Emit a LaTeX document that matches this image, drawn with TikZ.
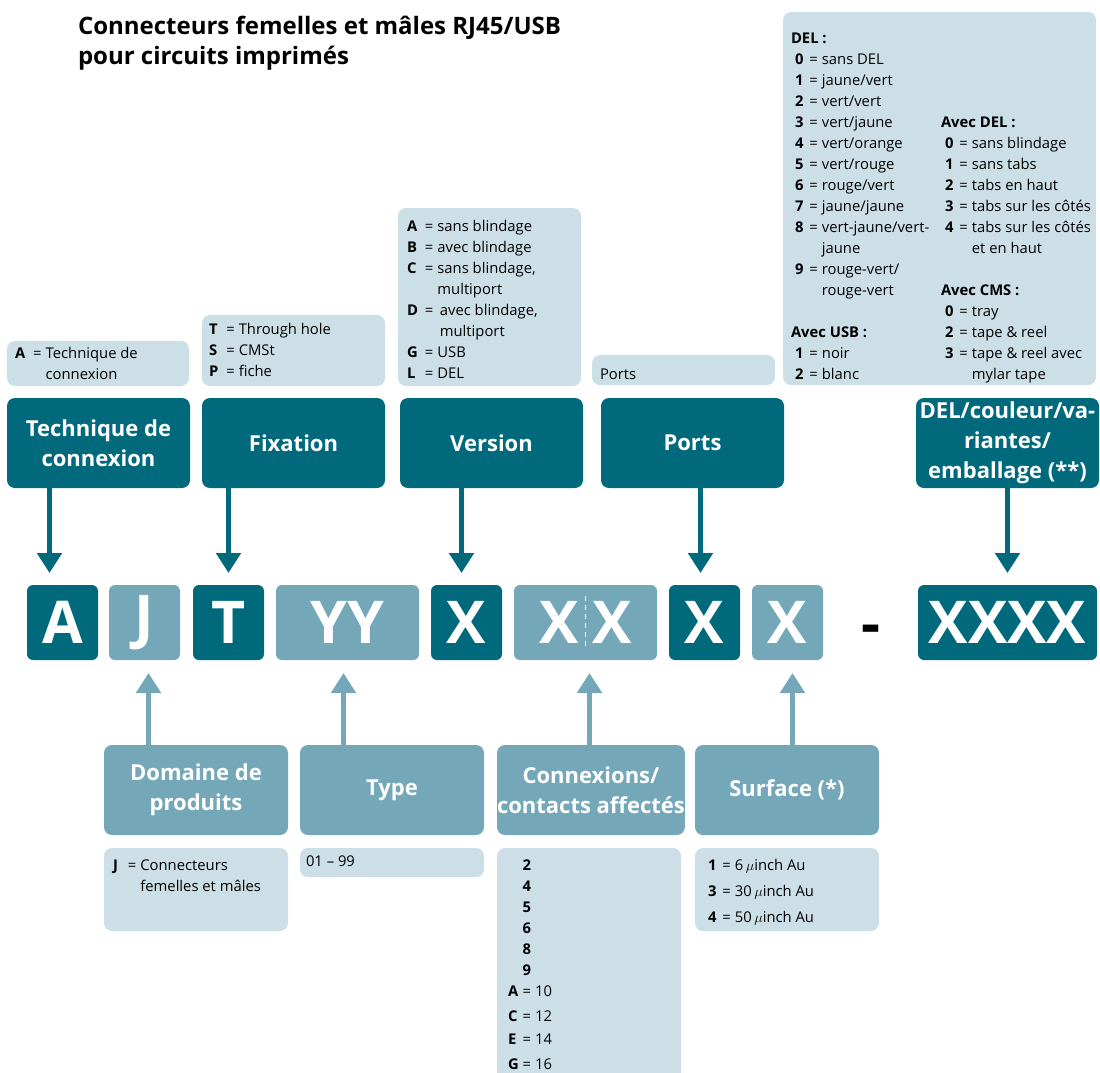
\documentclass[tikz,border=0pt]{standalone}
\usepackage{fontspec}
\setmainfont{Open Sans}
\usetikzlibrary{positioning,arrows.meta}
\definecolor{tealdark}{HTML}{006A7C}
\definecolor{tealmid}{HTML}{74A8B8}
\definecolor{teallight}{HTML}{CCDFE6}
\begin{document}
\begin{tikzpicture}
  [x=1pt, y=-1pt,
   every node/.style={inner sep=0pt, outer sep=0pt},
   hdr/.style={fill=tealdark, text=white, rounded corners=8pt, align=center, anchor=north west, minimum width=183pt, minimum height=90pt, font=\fontsize{22}{30}\selectfont\bfseries},
   subhdr/.style={hdr, fill=tealmid, minimum width=184pt},
   info/.style={fill=teallight, rounded corners=8pt, anchor=north west, inner xsep=8pt, font=\fontsize{14.8}{21}\selectfont},
   code/.style={fill=tealdark, text=white, rounded corners=6pt, anchor=north west, minimum width=71pt, minimum height=75pt, font=\fontsize{59}{59}\selectfont\bfseries},
   codemid/.style={code, fill=tealmid},
   dnarrow/.style={tealdark, line width=5pt, -{Triangle[width=24pt,length=20pt]}, shorten >=12pt},
   uparrow/.style={tealmid, line width=5pt, -{Triangle[width=24pt,length=20pt]}, shorten >=13pt}]
  \useasboundingbox (0,0) rectangle (1100,1072);

  \node[anchor=north west, align=left, font=\fontsize{24}{30}\selectfont\bfseries] (title) at (78,16) {Connecteurs femelles et mâles RJ45/USB\\pour circuits imprimés};

  \node[info, inner ysep=3pt] (techinfo) at (7,341) {\begin{minipage}[c][39pt][t]{166pt}\begin{tabular}{@{}l@{\hspace{8pt}}l@{\hspace{4pt}}l@{}}
    \textbf{A} & = & Technique de\\ & & connexion\end{tabular}\end{minipage}};
  \node[info, inner ysep=5pt, inner xsep=7pt] (fixinfo) at (202,315) {\begin{minipage}[c][61pt][t]{169pt}\begin{tabular}{@{}l@{\hspace{8pt}}l@{\hspace{4pt}}l@{}}
    \textbf{T} & = & Through hole\\ \textbf{S} & = & CMSt\\ \textbf{P} & = & fiche\end{tabular}\end{minipage}};
  \node[info, inner ysep=9pt, inner xsep=9pt] (verinfo) at (398,208) {\begin{minipage}[c][160pt][t]{165pt}\begin{tabular}{@{}l@{\hspace{7pt}}l@{\hspace{4pt}}l@{}}
    \textbf{A} & = & sans blindage\\ \textbf{B} & = & avec blindage\\ \textbf{C} & = & sans blindage,\\ & & multiport\\
    \textbf{D} & = & \,avec blindage,\\ & & \,multiport\\ \textbf{G} & = & USB\\ \textbf{L} & = & DEL\end{tabular}\end{minipage}};
  \node[info, inner ysep=0pt] (portinfo) at (592,355) {\begin{minipage}[c][30pt][t]{167pt}\rule{0pt}{24pt}Ports\end{minipage}};
  \node[info, inner ysep=0pt] (delinfo) at (783,12) {\begin{minipage}[c][373pt][t]{297pt}\vspace*{17pt}%
    \makebox[150pt][l]{\begin{tabular}[b]{@{\hspace{4pt}}l@{\hspace{6pt}}l@{\hspace{4pt}}l@{}}
    \multicolumn{3}{@{}l@{}}{\textbf{DEL :}}\\
    \textbf{0} & = & sans DEL\\ \textbf{1} & = & jaune/vert\\ \textbf{2} & = & vert/vert\\ \textbf{3} & = & vert/jaune\\
    \textbf{4} & = & vert/orange\\ \textbf{5} & = & vert/rouge\\ \textbf{6} & = & rouge/vert\\ \textbf{7} & = & jaune/jaune\\
    \textbf{8} & = & vert-jaune/vert-\\ & & jaune\\ \textbf{9} & = & rouge-vert/\\ & & rouge-vert\\ & & \\
    \multicolumn{3}{@{}l@{}}{\textbf{Avec USB :}}\\
    \textbf{1} & = & noir\\ \textbf{2} & = & blanc\end{tabular}}%
    \begin{tabular}[b]{@{\hspace{4pt}}l@{\hspace{6pt}}l@{\hspace{4pt}}l@{}}
    \multicolumn{3}{@{}l@{}}{\textbf{Avec DEL :}}\\
    \textbf{0} & = & sans blindage\\ \textbf{1} & = & sans tabs\\ \textbf{2} & = & tabs en haut\\ \textbf{3} & = & tabs sur les côtés\\
    \textbf{4} & = & tabs sur les côtés\\ & & et en haut\\ & & \\
    \multicolumn{3}{@{}l@{}}{\textbf{Avec CMS :}}\\
    \textbf{0} & = & tray\\ \textbf{2} & = & tape \& reel\\ \textbf{3} & = & tape \& reel avec\\ & & mylar tape\end{tabular}\end{minipage}};

  \node[hdr] (techhdr) at (7,398) {Technique de\\connexion};
  \node[hdr] (fixhdr) at (202,398) {Fixation};
  \node[hdr] (verhdr) at (400,398) {Version};
  \node[hdr] (porthdr) at (601,398) {Ports};
  \node[hdr] (delhdr) at (916,398) {DEL/couleur/va-\\riantes/\\emballage (**)};

  \node[code] (cA) at (27,585) {A};
  \node[codemid] (cJ) at (109,585) {J};
  \node[code] (cT) at (193,585) {T};
  \node[codemid, minimum width=143pt] (cYY) at (276,585) {YY};
  \node[code] (cV) at (431,585) {X};
  \node[codemid, minimum width=143pt] (cXX) at (514,585) {X\hspace{14pt}X};
  \node[code] (cP) at (669,585) {X};
  \node[codemid] (cS) at (752,585) {X};
  \node[font=\fontsize{59}{59}\selectfont\bfseries, anchor=base] (dash) at (871,644) {-};
  \node[code, minimum width=179pt] (cDEL) at (918,585) {XXXX};

  \node[subhdr] (domhdr) at (104,745) {Domaine de\\produits};
  \node[subhdr] (typehdr) at (300,745) {Type};
  \node[subhdr] (connhdr) at (497,745) {Connexions/\\contacts affectés};
  \node[subhdr] (surfhdr) at (695,745) {Surface (*)};

  \node[info, inner ysep=8pt, inner xsep=9pt] (jinfo) at (104,848) {\begin{minipage}[c][67pt][t]{166pt}\begin{tabular}{@{}l@{\hspace{10pt}}l@{\hspace{4pt}}l@{}}
    \textbf{J} & = & Connecteurs\\ & & femelles et mâles\end{tabular}\end{minipage}};
  \node[info, inner ysep=0pt, inner xsep=6pt] (typeinfo) at (300,848) {\begin{minipage}[c][29pt][t]{172pt}\rule{0pt}{18pt}01 -- 99\end{minipage}};
  \node[info, inner ysep=8pt, inner xsep=11pt] (conninfo) at (497,848) {\begin{minipage}[c][224pt][t]{162pt}\begin{tabular}{@{}l@{\hspace{4pt}}c@{\hspace{4pt}}l@{}}
    & \textbf{2} & \\ & \textbf{4} & \\ & \textbf{5} & \\ & \textbf{6} & \\ & \textbf{8} & \\ & \textbf{9} & \\
    \textbf{A} & = & 10\\[4pt] \textbf{C} & = & 12\\[2pt] \textbf{E} & = & 14\\[4pt] \textbf{G} & = & 16\end{tabular}\end{minipage}};
  \node[info, inner ysep=8pt, inner xsep=13pt] (surfinfo) at (695,848) {\begin{minipage}[c][67pt][t]{158pt}\begin{tabular}{@{}l@{\hspace{6pt}}l@{\hspace{4pt}}l@{}}
    \textbf{1} & = & 6\,$\mu$inch Au\\[5pt] \textbf{3} & = & 30\,$\mu$inch Au\\[5pt] \textbf{4} & = & 50\,$\mu$inch Au\end{tabular}\end{minipage}};

  \draw[dnarrow] ([xshift=-13pt]techhdr.south -| cA.north) -- ([xshift=-13pt]cA.north);
  \draw[dnarrow] (fixhdr.south -| cT.north) -- (cT.north);
  \draw[dnarrow] ([xshift=-5pt]verhdr.south -| cV.north) -- ([xshift=-5pt]cV.north);
  \draw[dnarrow] ([xshift=-4pt]porthdr.south -| cP.north) -- ([xshift=-4pt]cP.north);
  \draw[dnarrow] (delhdr.south -| cDEL.north) -- (cDEL.north);
  \draw[uparrow] ([xshift=4pt]domhdr.north -| cJ.south) -- ([xshift=4pt]cJ.south);
  \draw[uparrow] ([xshift=-4pt]typehdr.north -| cYY.south) -- ([xshift=-4pt]cYY.south);
  \draw[uparrow] ([xshift=4pt]connhdr.north -| cXX.south) -- ([xshift=4pt]cXX.south);
  \draw[uparrow] ([xshift=5pt]surfhdr.north -| cS.south) -- ([xshift=5pt]cS.south);
  \draw[white, line width=1.5pt, dash pattern=on 5pt off 4pt] ([yshift=-11pt]cXX.north) -- ([yshift=10pt]cXX.south);
\end{tikzpicture}
\end{document}
